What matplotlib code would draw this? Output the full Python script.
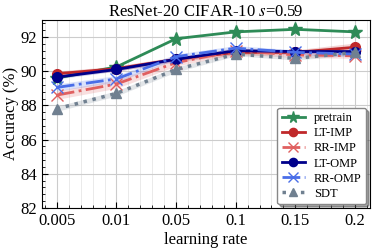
import numpy as np
import matplotlib
matplotlib.use("Agg")
import matplotlib.pyplot as plt
from matplotlib.ticker import AutoMinorLocator

plt.rcParams['font.family'] = ['Liberation Serif', 'DejaVu Serif']
plt.rcParams['mathtext.fontset'] = 'stix'

lr_labels = ['0.005', '0.01', '0.05', '0.1', '0.15', '0.2']

pretrain = [89.6, 90.25, 91.9, 92.3, 92.45, 92.3]
lt_imp = [89.85, 90.15, 90.7, 91.1, 91.1, 91.4]
lt_imp_std = [0.15, 0.15, 0.15, 0.15, 0.15, 0.25]
rr_imp = [88.6, 89.25, 90.5, 91.2, 90.95, 90.9]
rr_imp_std = [0.25, 0.25, 0.2, 0.2, 0.15, 0.15]
lt_omp = [89.65, 90.1, 90.7, 91.2, 91.15, 91.15]
lt_omp_std = [0.1, 0.1, 0.1, 0.1, 0.1, 0.1]
rr_omp = [89.05, 89.55, 90.85, 91.35, 91.1, 91.0]
rr_omp_std = [0.2, 0.2, 0.15, 0.15, 0.15, 0.15]
sdt = [87.8, 88.7, 90.1, 91.0, 90.75, 91.1]
sdt_std = [0.15, 0.15, 0.15, 0.1, 0.1, 0.15]

x = np.arange(len(lr_labels))

fig, ax = plt.subplots(figsize=(3.74, 2.49), dpi=100)
fig.subplots_adjust(left=0.112, right=0.989, bottom=0.165, top=0.92)

series = [
    ('pretrain', pretrain, None, '#2e8b57', '-', '*', 10),
    ('LT-IMP', lt_imp, lt_imp_std, '#c0282a', '-', 'o', 7),
    ('RR-IMP', rr_imp, rr_imp_std, '#e06060', '-.', 'x', 9),
    ('LT-OMP', lt_omp, lt_omp_std, '#00008b', '-', 'o', 7),
    ('RR-OMP', rr_omp, rr_omp_std, '#4a6ee8', '-.', 'x', 9),
    ('SDT', sdt, sdt_std, '#708090', ':', '^', 7),
]

for name, y, s, c, ls, m, ms in series:
    y = np.array(y)
    lw = 2.5 if ls == ':' else 2
    ax.plot(x, y, color=c, linestyle=ls, marker=m, markersize=ms, lw=lw,
            label=name, zorder=3)
    if s is not None:
        s = np.array(s)
        ax.fill_between(x, y - s, y + s, color=c, alpha=0.2, lw=0, zorder=2)

ax.set_xticks(x)
ax.set_xticklabels(lr_labels)
ax.set_xlim(-0.25, 5.25)
ax.set_ylim(82, 93)
ax.set_yticks([82, 84, 86, 88, 90, 92])
ax.xaxis.set_minor_locator(AutoMinorLocator(5))
ax.yaxis.set_minor_locator(AutoMinorLocator(5))
ax.tick_params(which='both', direction='in', labelsize=12)
ax.tick_params(which='major', length=4)
ax.tick_params(which='minor', length=2)
ax.grid(True, which='major', color='#cccccc', lw=0.8)
ax.grid(True, which='minor', axis='x', color='#e6e6e6', lw=0.6)
ax.set_axisbelow(True)
for sp in ax.spines.values():
    sp.set_color('black')

ax.set_xlabel('learning rate', fontsize=12, labelpad=2)
ax.set_ylabel('Accuracy (%)', fontsize=12, labelpad=1)
ax.set_title('ResNet-20 CIFAR-10 $s$=0.59', fontsize=12, pad=3)

ax.legend(loc='lower right', fontsize=9, shadow=True, fancybox=True,
          framealpha=1, edgecolor='#888888', handlelength=1.9,
          borderpad=0.35, labelspacing=0.25, handletextpad=0.7,
          borderaxespad=0.3, markerscale=0.85)

plt.savefig('out.png', dpi=100)
